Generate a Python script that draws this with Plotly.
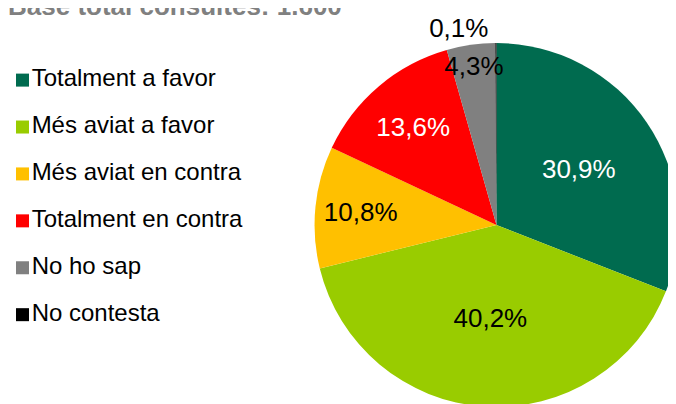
import plotly.graph_objects as go

# Survey answers (percent of 1.600 consultations)
labels = ['Totalment a favor', 'Més aviat a favor', 'Més aviat en contra',
          'Totalment en contra', 'No ho sap', 'No contesta']
values = [30.9, 40.2, 10.8, 13.6, 4.3, 0.1]
colors = ['#006B4F', '#99CC00', '#FFC000', '#FF0000', '#808080', '#000000']
text_colors = ['white', 'black', 'black', 'white', 'black', 'black']
positions = ['inside', 'inside', 'inside', 'inside', 'inside', 'outside']

title = 'Base total consultes: 1.600'
FONT = 'Liberation Sans, Arial, sans-serif'

fig = go.Figure()

fig.add_trace(go.Pie(
    labels=labels, values=values, sort=False,
    direction='clockwise', rotation=0,
    marker=dict(colors=colors, line=dict(width=0)),
    texttemplate='%{value:.1f}%',
    textposition=positions,
    insidetextorientation='horizontal',
    textfont=dict(family=FONT, size=26, color=text_colors),
    outsidetextfont=dict(family=FONT, size=26, color='black'),
    domain=dict(x=[0.456, 1.0], y=[0.0, 0.912]),
    showlegend=False,
))

# legend drawn as a column of square markers with their labels
fig.add_trace(go.Scatter(
    x=[0] * len(labels), y=labels, mode='markers+text',
    text=labels, textposition='middle right',
    textfont=dict(family=FONT, size=24, color='black'),
    marker=dict(symbol='square', size=13, color=colors),
    cliponaxis=False, hoverinfo='skip', showlegend=False,
))

fig.update_layout(
    width=676, height=404,
    margin=dict(l=0, r=0, t=0, b=0),
    paper_bgcolor='white', plot_bgcolor='rgba(0,0,0,0)',
    separators=',.',
    font=dict(family=FONT, color='black'),
    annotations=[dict(text='<b>' + title + '</b>', x=0, xref='paper', xanchor='left',
                      xshift=-2, y=1, yref='paper', yanchor='middle', yshift=2,
                      showarrow=False,
                      font=dict(family=FONT, size=26, color='#808080'))],
    xaxis=dict(domain=[0, 0.4], range=[-0.75, 13.12], visible=False, fixedrange=True),
    yaxis=dict(domain=[0, 1], type='category', range=[6.968, -1.537],
               visible=False, fixedrange=True),
    showlegend=False,
    uniformtext=dict(minsize=26, mode='show'),
)

fig.write_html('out.html')
